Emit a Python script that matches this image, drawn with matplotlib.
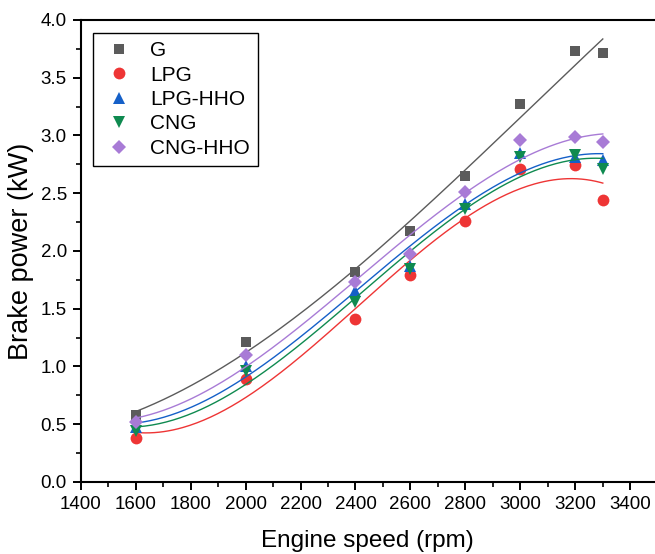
import numpy as np
import matplotlib
matplotlib.use('Agg')
import matplotlib.pyplot as plt
from matplotlib.ticker import MultipleLocator, FormatStrFormatter

plt.rcParams['font.family'] = ['Liberation Sans', 'DejaVu Sans']

speed = [1600, 2000, 2400, 2600, 2800, 3000, 3200, 3300]
g = [0.58, 1.21, 1.82, 2.17, 2.65, 3.27, 3.73, 3.71]
lpg = [0.38, 0.89, 1.41, 1.79, 2.26, 2.71, 2.74, 2.44]
lpg_hho = [0.48, 1.00, 1.65, 1.87, 2.41, 2.85, 2.81, 2.79]
cng = [0.44, 0.96, 1.56, 1.84, 2.36, 2.81, 2.83, 2.71]
cng_hho = [0.52, 1.10, 1.73, 1.97, 2.51, 2.96, 2.99, 2.94]

series = [
    ('G', g, '#5b5b5b', 's', 7.5),
    ('LPG', lpg, '#ee3535', 'o', 8.5),
    ('LPG-HHO', lpg_hho, '#1560c8', '^', 8.5),
    ('CNG', cng, '#0f8a50', 'v', 8.5),
    ('CNG-HHO', cng_hho, '#a87bd6', 'D', 7),
]

fig = plt.figure(figsize=(6.55, 5.54), dpi=100)
ax = fig.add_axes([0.1232, 0.130, 0.8768, 0.834])

# cubic fit curves through each series
xs = np.linspace(speed[0], speed[-1], 200)
for name, vals, col, mk, ms in series:
    coef = np.polyfit(speed, vals, 3)
    ax.plot(xs, np.polyval(coef, xs), color=col, lw=1.0)
    ax.plot(speed, vals, ls='none', marker=mk, color=col, ms=ms,
            markeredgewidth=0, label=name)

ax.set_xlim(1400, 3490)
ax.set_ylim(0, 4.0)
ax.xaxis.set_major_locator(MultipleLocator(200))
ax.xaxis.set_minor_locator(MultipleLocator(100))
ax.yaxis.set_major_locator(MultipleLocator(0.5))
ax.yaxis.set_minor_locator(MultipleLocator(0.25))
ax.yaxis.set_major_formatter(FormatStrFormatter('%.1f'))
ax.tick_params(which='major', direction='out', length=6, width=1.4, labelsize=13.5, pad=4)
ax.tick_params(which='minor', direction='out', length=3.5, width=1.2)
for s in ax.spines.values():
    s.set_linewidth(1.5)
ax.spines['right'].set_visible(False)

ax.set_xlabel('Engine speed (rpm)', fontsize=17.5, labelpad=12)
ax.set_ylabel('Brake power (kW)', fontsize=19.5, labelpad=5)

leg = ax.legend(loc='upper left', bbox_to_anchor=(0.022, 0.972), fontsize=15,
                frameon=True, fancybox=False, edgecolor='black', framealpha=1,
                handletextpad=0.62, labelspacing=0.26, borderpad=0.4,
                handlelength=1.7, borderaxespad=0)
leg.get_frame().set_linewidth(1.0)

fig.savefig('out.png', dpi=100)
